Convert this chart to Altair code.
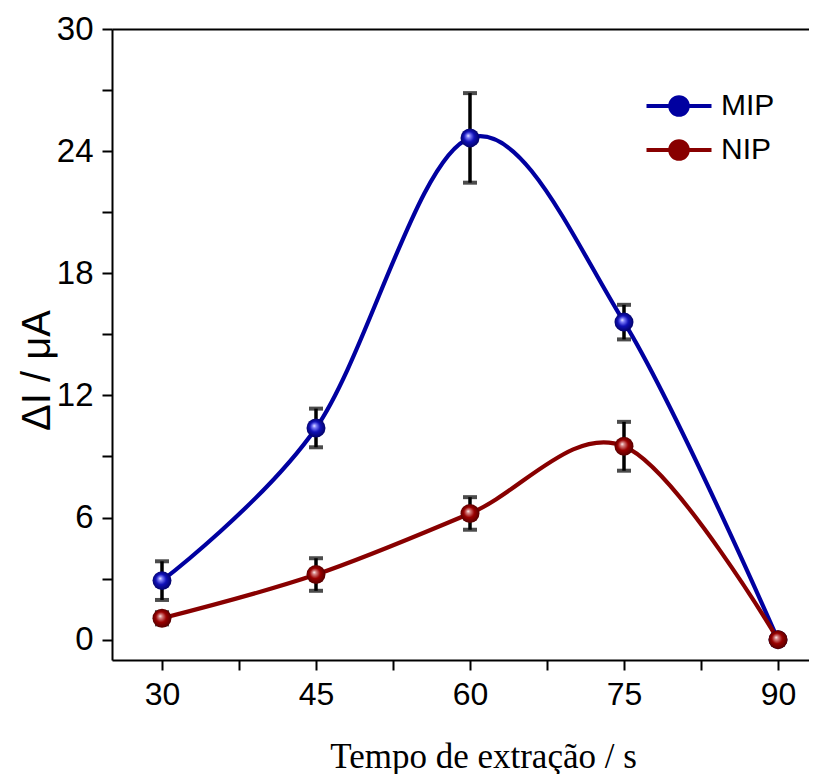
import altair as alt
import pandas as pd

# ---- data ----
times = [30, 45, 60, 75, 90]
mip = [2.9, 10.4, 24.65, 15.6, 0.0]
mip_err = [0.95, 0.95, 2.2, 0.85, 0.0]
nip = [1.05, 3.2, 6.2, 9.5, 0.0]
nip_err = [0.3, 0.8, 0.8, 1.2, 0.0]
series = ["MIP", "NIP"]
colors = ["#0000a0", "#880000"]

rows = []
for name, vals, errs in [("MIP", mip, mip_err), ("NIP", nip, nip_err)]:
    for t, v, e in zip(times, vals, errs):
        rows.append({"t": t, "v": v, "e": e, "lo": v - e, "hi": v + e, "s": name})
df = pd.DataFrame(rows)
df_err = df[df["e"] > 0]

W, H = 697, 631
X_DOM = [25.13, 25.13 + W / (616 / 60)]
Y_DOM = [-1, 30]
xs = alt.Scale(domain=X_DOM, nice=False, zero=False)
ys = alt.Scale(domain=Y_DOM, nice=False, zero=False)

x_axis = alt.Axis(
    values=[30, 37.5, 45, 52.5, 60, 67.5, 75, 82.5, 90],
    labelExpr="datum.value % 15 === 0 ? datum.label : ''",
    grid=False, tickSize=10, tickWidth=2, domainWidth=2, domainColor="black",
    tickColor="black", labelFont="Liberation Sans", labelFontSize=32,
    labelColor="black", labelPadding=9,
    title="Tempo de extração / s", titleFont="Liberation Serif",
    titleFontSize=35, titleFontWeight="normal", titleColor="black",
    titleX=371, titleY=107, titleBaseline="alphabetic",
)
y_axis = alt.Axis(
    values=[0, 3, 6, 9, 12, 15, 18, 21, 24, 27, 30],
    labelExpr="datum.value % 6 === 0 ? datum.label : ''",
    grid=False, tickSize=10, tickWidth=2, domainWidth=2, domainColor="black",
    tickColor="black", labelFont="Liberation Sans", labelFontSize=33,
    labelColor="black", labelPadding=9,
    title="ΔI / μA", titleFont="Liberation Sans", titleFontSize=40,
    titleFontWeight="normal", titleColor="black",
    titleX=-75, titleY=341, titleBaseline="middle", titleAngle=-90,
)

base = alt.Chart(df)

legend_path = ("M-3.25,0L3.25,0M0.88,0A0.88,0.88,0,1,1,-0.88,0"
               "A0.88,0.88,0,1,1,0.88,0Z")


def curve(name, col, axes=False):
    enc_x = alt.X("t:Q", scale=xs, axis=x_axis if axes else None)
    enc_y = alt.Y("v:Q", scale=ys, axis=y_axis if axes else None)
    return base.transform_filter(alt.datum.s == name).mark_line(
        interpolate="cardinal", strokeWidth=4.2, color=col
    ).encode(x=enc_x, y=enc_y)


line_mip = curve("MIP", colors[0], axes=True)
line_nip = curve("NIP", colors[1])

top_frame = base.mark_line(opacity=0).encode(
    x=alt.X("t:Q", scale=xs, axis=alt.Axis(orient="top", ticks=False,
            labels=False, title=None, grid=False, domainWidth=2,
            domainColor="black")),
    y=alt.Y("v:Q", scale=ys, axis=None),
)

leg = alt.Legend(
    title=None, orient="none", legendX=552, legendY=62,
    symbolType=legend_path, symbolSize=400, symbolStrokeWidth=4,
    labelFont="Liberation Sans", labelFontSize=30, labelColor="black",
    rowPadding=10, labelOffset=27, padding=0,
)
legend_pts = base.mark_point(filled=True, size=90, strokeWidth=3,
                             opacity=1).encode(
    x=alt.X("t:Q", scale=xs, axis=None),
    y=alt.Y("v:Q", scale=ys, axis=None),
    color=alt.Color("s:N", scale=alt.Scale(domain=series, range=colors),
                    legend=leg),
    stroke=alt.Stroke("s:N", scale=alt.Scale(domain=series, range=colors),
                      legend=leg),
)

rules = alt.Chart(df_err).mark_rule(strokeWidth=3.5, color="black").encode(
    x=alt.X("t:Q", scale=xs, axis=None),
    y=alt.Y("lo:Q", scale=ys, axis=None),
    y2="hi:Q",
)
caps_lo = alt.Chart(df_err).mark_tick(orient="horizontal", size=14,
                                      thickness=4, color="black").encode(
    x=alt.X("t:Q", scale=xs, axis=None),
    y=alt.Y("lo:Q", scale=ys, axis=None),
)
caps_hi = alt.Chart(df_err).mark_tick(orient="horizontal", size=14,
                                      thickness=4, color="black").encode(
    x=alt.X("t:Q", scale=xs, axis=None),
    y=alt.Y("hi:Q", scale=ys, axis=None),
)


def sphere(name, light, mid, dark):
    grad = alt.RadialGradient(
        gradient="radial",
        stops=[
            alt.GradientStop(offset=0, color="#ffffff"),
            alt.GradientStop(offset=0.16, color=light),
            alt.GradientStop(offset=0.5, color=mid),
            alt.GradientStop(offset=1, color=dark),
        ],
        x1=0.4, y1=0.38, r1=0, x2=0.5, y2=0.5, r2=0.55,
    )
    return base.transform_filter(alt.datum.s == name).mark_point(
        filled=True, fill=grad, size=360, opacity=1, strokeOpacity=0,
        shape="circle",
    ).encode(
        x=alt.X("t:Q", scale=xs, axis=None),
        y=alt.Y("v:Q", scale=ys, axis=None),
    )


pts_mip = sphere("MIP", "#8a8aff", "#1010b8", "#00005a")
pts_nip = sphere("NIP", "#d98a8a", "#9a0000", "#4a0000")

chart = alt.layer(
    line_mip, line_nip, top_frame, legend_pts, rules, caps_lo, caps_hi,
    pts_mip, pts_nip
).resolve_axis(x="independent", y="independent").properties(
    width=W, height=H,
    autosize=alt.AutoSizeParams(type="none"),
    padding={"left": 104, "top": 21, "right": 0, "bottom": 114},
).configure_view(stroke=None).configure(background="white")

chart.save("out.html", embed_options={"renderer": "svg", "actions": False})
